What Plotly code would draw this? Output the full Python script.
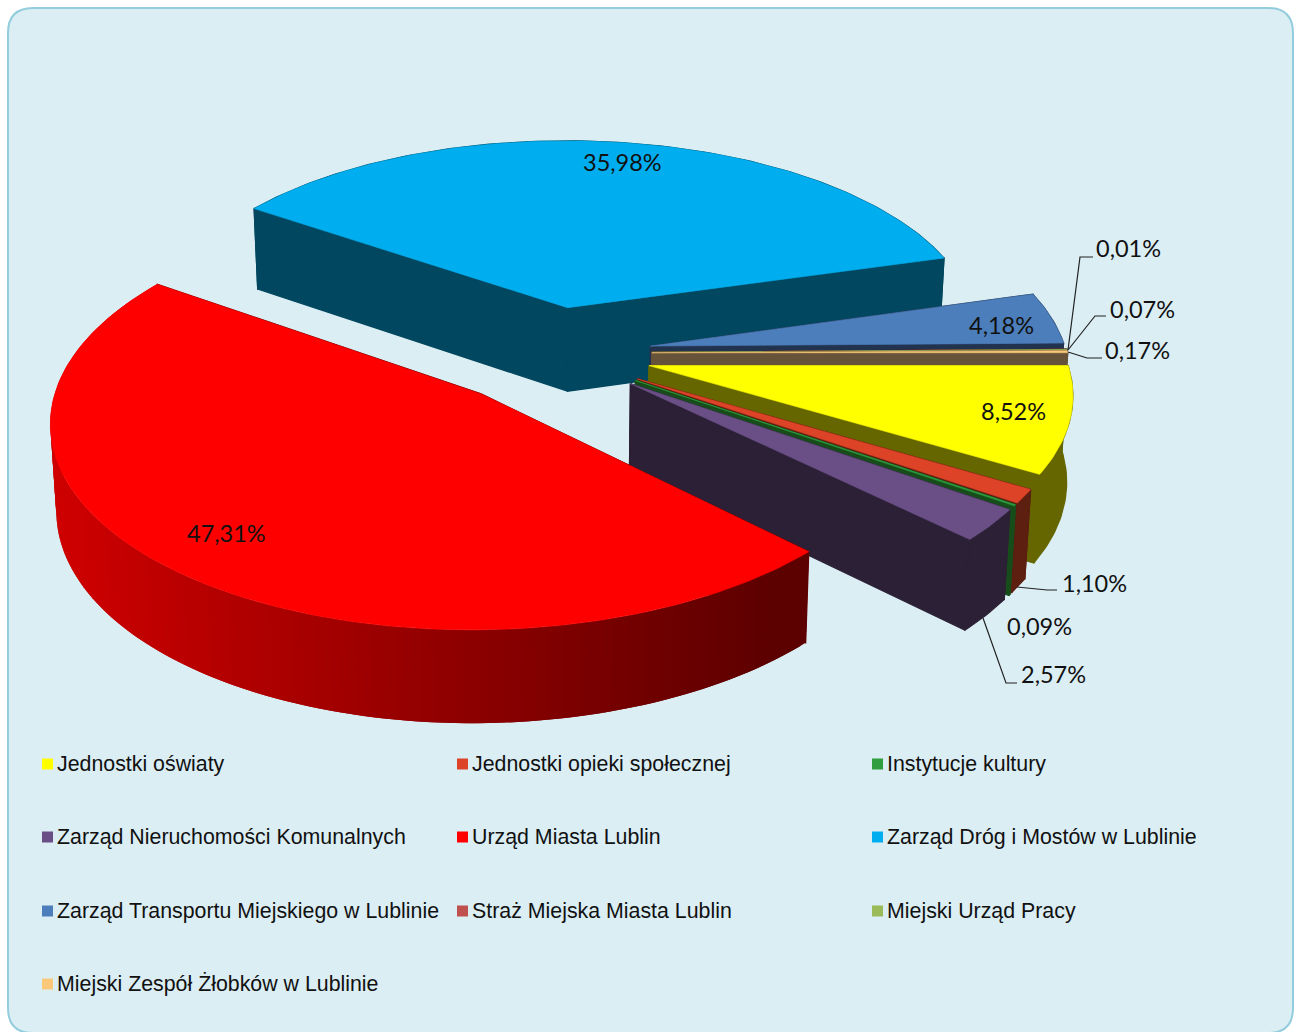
import math
import plotly.graph_objects as go

# ---- data -----------------------------------------------------------------
categories = ["Jednostki oświaty", "Jednostki opieki społecznej", "Instytucje kultury",
              "Zarząd Nieruchomości Komunalnych", "Urząd Miasta Lublin",
              "Zarząd Dróg i Mostów w Lublinie", "Zarząd Transportu Miejskiego w Lublinie",
              "Straż Miejska Miasta Lublin", "Miejski Urząd Pracy",
              "Miejski Zespół Żłobków w Lublinie"]
shares = [8.52, 1.10, 0.09, 2.57, 47.31, 35.98, 4.18, 0.01, 0.07, 0.17]
share_labels = ["8,52%", "1,10%", "0,09%", "2,57%", "47,31%", "35,98%", "4,18%", "0,01%", "0,07%", "0,17%"]
top_colors = ["#FFFF00", "#DC4327", "#2E9E3F", "#6A4F87", "#FF0000", "#00AEEF", "#4C7EBB", "#C0504D", "#9BBB59", "#FAC878"]
side_colors = ["#666600", "#5C1F10", "#174D1A", "#2C2036", "#660000", "#00475F", "#223350", "#4D2020", "#3F4C24", "#66533A"]
explosions = [0.24, 0.24, 0.24, 0.24, 0.262, 0.24, 0.24, 0.24, 0.24, 0.24]
label_xy = [(1013, 410.5), (1094, 583), (1039, 626), (1053, 674), (226, 533), (622, 162), (1001, 325), (1128, 248), (1142, 309), (1137, 350)]
draw_order = [5, 6, 7, 8, 9, 0, 1, 2, 3, 4]

# ---- projection of the exploded pie ---------------------------------------
CX, CY, R, RY, K, H, M, START = 552, 353, 416, 197, 0.12, 85, 0.012, 90.0


def project(U, V, Z=0.0):
    s = 1 / (1 - K * V)
    sx = s * (1 - M * Z)
    return CX + R * U * sx, CY + RY * V * s + H * Z * s ** 0.6


def unit(deg):
    a = math.radians(deg)
    return math.sin(a), -math.cos(a)


total = sum(shares)
spans, a0 = [], START
for v in shares:
    a1 = a0 + 360 * v / total
    spans.append((a0, a1))
    a0 = a1

fig = go.Figure()


def poly(pts, color, name, width=1.2):
    xs = [p[0] for p in pts] + [pts[0][0]]
    ys = [p[1] for p in pts] + [pts[0][1]]
    fig.add_trace(go.Scatter(x=xs, y=ys, mode="lines", fill="toself", fillcolor=color,
                             line=dict(color=color, width=width), name=name,
                             hoverinfo="skip", showlegend=False))


def lerp_red(t):
    c0, c1 = (206, 0, 0), (92, 0, 0)
    return "rgb(%d,%d,%d)" % tuple(round(a + (b - a) * t) for a, b in zip(c0, c1))


for i in draw_order:
    a0, a1 = spans[i]
    bu, bv = unit((a0 + a1) / 2)
    ox, oy = explosions[i] * bu, explosions[i] * bv
    n = max(2, int((a1 - a0) / 1.0) + 2)
    angs = [a0 + (a1 - a0) * j / (n - 1) for j in range(n)]
    rim = [(ox + unit(a)[0], oy + unit(a)[1]) for a in angs]
    # the two radial faces
    for p in (rim[0], rim[-1]):
        poly([project(ox, oy), project(*p), project(p[0], p[1], 1), project(ox, oy, 1)], side_colors[i], categories[i])
    # outer wall
    if i == 4:
        for j in range(0, len(rim) - 1):
            seg = rim[j:j + 3]
            xm = project(*seg[0])[0]
            t = min(1, max(0, (xm - 60) / 720))
            poly([project(*p) for p in seg] + [project(p[0], p[1], 1) for p in reversed(seg)],
                 lerp_red(t), categories[i], width=0)
    else:
        poly([project(*p) for p in rim] + [project(p[0], p[1], 1) for p in reversed(rim)], side_colors[i], categories[i])
    # top face
    poly([project(ox, oy)] + [project(*p) for p in rim], top_colors[i], categories[i], width=0.6)

# ---- legend ---------------------------------------------------------------
leg_x = [42, 457, 872]
leg_y = [764, 837, 911, 984]
anns = []
for i, c in enumerate(categories):
    x = leg_x[i % 3]
    y = leg_y[i // 3]
    fig.add_trace(go.Scatter(x=[x + 5.5], y=[y], mode="markers", name=c, showlegend=False, hoverinfo="skip",
                             marker=dict(symbol="square", size=11, color=top_colors[i], line=dict(width=0))))
    anns.append(dict(x=x + 13, y=y, text=c, showarrow=False, xanchor="left", yanchor="middle",
                     font=dict(family="Liberation Sans", size=21.35, color="#111111")))

for txt, (x, y) in zip(share_labels, label_xy):
    anns.append(dict(x=x, y=y, text=txt, showarrow=False, xanchor="center", yanchor="middle",
                     font=dict(family="Lato", size=23.5, color="#111111")))

leaders = ["M1068,350 L1080,257 L1093,257", "M1068,350 L1095,316 L1106,316",
           "M1068,352 L1087,358 L1102,358", "M1017,587 L1047,590 L1057,590",
           "M983,618 L1006,683 L1017,683"]
shapes = [dict(type="path", layer="below", xref="x", yref="y",
               path="M33,8 L1268,8 Q1293,8 1293,33 L1293,1008 Q1293,1033 1268,1033 L33,1033 Q8,1033 8,1008 L8,33 Q8,8 33,8 Z",
               fillcolor="#DBEEF4", line=dict(color="#93CDDD", width=2))]
for p in leaders:
    shapes.append(dict(type="path", layer="above", xref="x", yref="y", path=p, line=dict(color="#222222", width=1.2)))

fig.update_layout(width=1298, height=1032, margin=dict(l=0, r=0, t=0, b=0), showlegend=False,
                  paper_bgcolor="white", plot_bgcolor="rgba(0,0,0,0)",
                  xaxis=dict(range=[0, 1298], visible=False, fixedrange=True),
                  yaxis=dict(range=[1032, 0], visible=False, fixedrange=True),
                  annotations=anns, shapes=shapes)
fig.write_html("out.html", config=dict(displayModeBar=False),
               post_script="document.body.style.margin='0';document.body.style.overflow='hidden';")
